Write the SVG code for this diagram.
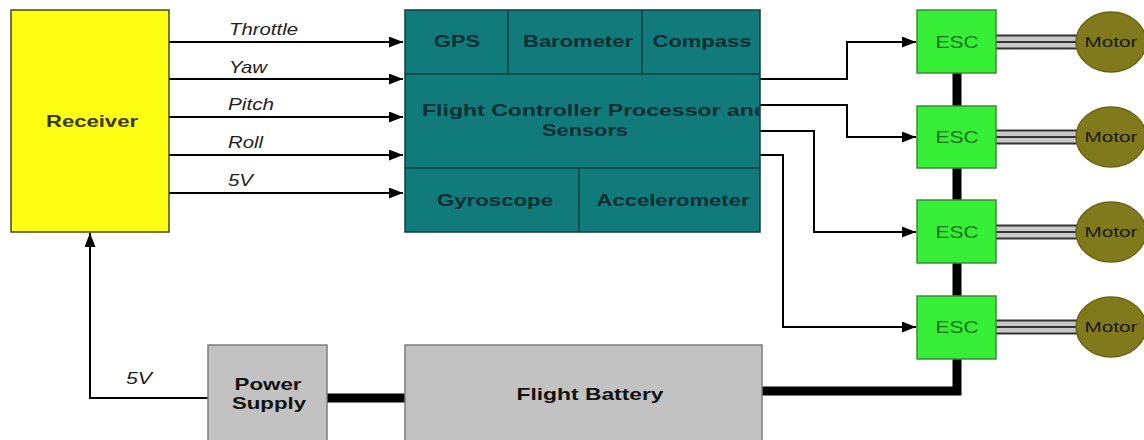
<svg xmlns="http://www.w3.org/2000/svg" width="1144" height="440" viewBox="0 0 1144 440">
<defs>
<marker id="arr" markerWidth="14" markerHeight="11" refX="14" refY="5.5" orient="auto" markerUnits="userSpaceOnUse">
<path d="M0,0 L14,5.5 L0,11 Z" fill="#000"/>
</marker>
<clipPath id="fcclip"><rect x="405" y="74" width="354" height="94"/></clipPath>
<style>
.lbl{font-family:"Liberation Sans",Arial,sans-serif;font-weight:bold;font-size:17px;fill:#0b2e33;text-anchor:middle}
.rx{font-family:"Liberation Sans",Arial,sans-serif;font-weight:bold;font-size:17px;fill:#3a3a00;text-anchor:middle}
.gry{font-family:"Liberation Sans",Arial,sans-serif;font-weight:bold;font-size:17px;fill:#111;text-anchor:middle}
.sig{font-family:"Liberation Sans",Arial,sans-serif;font-style:italic;font-size:17px;fill:#222}
.esc{font-family:"Liberation Sans",Arial,sans-serif;font-size:17px;fill:#167516;text-anchor:middle}
.mot{font-family:"Liberation Sans",Arial,sans-serif;font-size:15px;fill:#1a1a1a;text-anchor:middle}
.wire{stroke:#000;stroke-width:2;fill:none}
.bus{stroke:#000;stroke-width:9;fill:none}
.teal{fill:#117b7c;stroke:#0a3f40;stroke-width:1.5}
.escb{fill:#35ee35;stroke:#3c8c3c;stroke-width:1.5}
.motb{fill:#807a1c;stroke:#6a6512;stroke-width:1.5}
.grayb{fill:#c2c2c2;stroke:#7c7c7c;stroke-width:1.5}
.div{stroke:#0a3f40;stroke-width:1.5}
</style>
</defs>
<rect width="1144" height="440" fill="#fff"/>

<g id="connectors">
<path class="bus" d="M957,73 V391 H762"/>
<path class="bus" d="M327,398 H406" stroke-width="8"/>
<path class="wire" d="M169,42 H403" marker-end="url(#arr)"/>
<path class="wire" d="M169,79 H403" marker-end="url(#arr)"/>
<path class="wire" d="M169,117 H403" marker-end="url(#arr)"/>
<path class="wire" d="M169,155 H403" marker-end="url(#arr)"/>
<path class="wire" d="M169,193 H403" marker-end="url(#arr)"/>
<path class="wire" d="M208,398 H90 V233" marker-end="url(#arr)"/>
<path class="wire" d="M760,79 H847 V42 H916" marker-end="url(#arr)"/>
<path class="wire" d="M760,105 H847 V137 H916" marker-end="url(#arr)"/>
<path class="wire" d="M760,131 H814 V232 H916" marker-end="url(#arr)"/>
<path class="wire" d="M760,155 H783 V327 H916" marker-end="url(#arr)"/>
<g id="motor-wires">
<g transform="translate(0,42)"><rect x="996" y="-7" width="82" height="14" fill="#c8c8c8"/><path d="M996,-6.5 H1078 M996,0 H1078 M996,6.5 H1078" stroke="#333" stroke-width="2.2"/></g>
<g transform="translate(0,137)"><rect x="996" y="-7" width="82" height="14" fill="#c8c8c8"/><path d="M996,-6.5 H1078 M996,0 H1078 M996,6.5 H1078" stroke="#333" stroke-width="2.2"/></g>
<g transform="translate(0,232)"><rect x="996" y="-7" width="82" height="14" fill="#c8c8c8"/><path d="M996,-6.5 H1078 M996,0 H1078 M996,6.5 H1078" stroke="#333" stroke-width="2.2"/></g>
<g transform="translate(0,327)"><rect x="996" y="-7" width="82" height="14" fill="#c8c8c8"/><path d="M996,-6.5 H1078 M996,0 H1078 M996,6.5 H1078" stroke="#333" stroke-width="2.2"/></g>
</g>
<text class="sig" x="229" y="35" textLength="69" lengthAdjust="spacingAndGlyphs">Throttle</text>
<text class="sig" x="229" y="73" textLength="38" lengthAdjust="spacingAndGlyphs">Yaw</text>
<text class="sig" x="228" y="110" textLength="46" lengthAdjust="spacingAndGlyphs">Pitch</text>
<text class="sig" x="228" y="148" textLength="35" lengthAdjust="spacingAndGlyphs">Roll</text>
<text class="sig" x="228" y="186" textLength="25" lengthAdjust="spacingAndGlyphs">5V</text>
<text class="sig" x="126" y="384" textLength="26" lengthAdjust="spacingAndGlyphs">5V</text>
</g>

<g id="receiver">
<rect x="11" y="10" width="158" height="222" fill="#ffff14" stroke="#4a4a10" stroke-width="1.5"/>
<text class="rx" x="92" y="127" textLength="92" lengthAdjust="spacingAndGlyphs">Receiver</text>
</g>

<g id="flight-controller">
<rect class="teal" x="405" y="10" width="355" height="222"/>
<line class="div" x1="405" y1="74" x2="760" y2="74"/>
<line class="div" x1="405" y1="168" x2="760" y2="168"/>
<line class="div" x1="508" y1="10" x2="508" y2="74"/>
<line class="div" x1="642" y1="10" x2="642" y2="74"/>
<line class="div" x1="579" y1="168" x2="579" y2="232"/>
<text class="lbl" x="457" y="47" textLength="46" lengthAdjust="spacingAndGlyphs">GPS</text>
<text class="lbl" x="578" y="47" textLength="110" lengthAdjust="spacingAndGlyphs">Barometer</text>
<text class="lbl" x="702" y="47" textLength="99" lengthAdjust="spacingAndGlyphs">Compass</text>
<text class="lbl" x="422" y="116" style="text-anchor:start" textLength="346" lengthAdjust="spacingAndGlyphs" clip-path="url(#fcclip)">Flight Controller Processor and</text>
<text class="lbl" x="585" y="136" textLength="86" lengthAdjust="spacingAndGlyphs">Sensors</text>
<text class="lbl" x="495" y="206" textLength="116" lengthAdjust="spacingAndGlyphs">Gyroscope</text>
<text class="lbl" x="673" y="206" textLength="153" lengthAdjust="spacingAndGlyphs">Accelerometer</text>
</g>

<g id="esc1"><rect class="escb" x="917" y="10" width="79" height="63"/><text class="esc" x="957" y="48" textLength="43" lengthAdjust="spacingAndGlyphs">ESC</text></g>
<g id="esc2"><rect class="escb" x="917" y="106" width="79" height="62"/><text class="esc" x="957" y="143" textLength="43" lengthAdjust="spacingAndGlyphs">ESC</text></g>
<g id="esc3"><rect class="escb" x="917" y="200" width="79" height="63"/><text class="esc" x="957" y="238" textLength="43" lengthAdjust="spacingAndGlyphs">ESC</text></g>
<g id="esc4"><rect class="escb" x="917" y="296" width="79" height="63"/><text class="esc" x="957" y="333" textLength="43" lengthAdjust="spacingAndGlyphs">ESC</text></g>

<g id="motor1"><ellipse class="motb" cx="1111" cy="42" rx="35" ry="30"/><text class="mot" x="1111" y="47" textLength="53" lengthAdjust="spacingAndGlyphs">Motor</text></g>
<g id="motor2"><ellipse class="motb" cx="1111" cy="137" rx="35" ry="30"/><text class="mot" x="1111" y="142" textLength="53" lengthAdjust="spacingAndGlyphs">Motor</text></g>
<g id="motor3"><ellipse class="motb" cx="1111" cy="232" rx="35" ry="30"/><text class="mot" x="1111" y="237" textLength="53" lengthAdjust="spacingAndGlyphs">Motor</text></g>
<g id="motor4"><ellipse class="motb" cx="1111" cy="327" rx="35" ry="30"/><text class="mot" x="1111" y="332" textLength="53" lengthAdjust="spacingAndGlyphs">Motor</text></g>

<g id="power-supply">
<rect class="grayb" x="208" y="345" width="119" height="100"/>
<text class="gry" x="268" y="390" textLength="67" lengthAdjust="spacingAndGlyphs">Power</text>
<text class="gry" x="269" y="409" textLength="74" lengthAdjust="spacingAndGlyphs">Supply</text>
</g>

<g id="flight-battery">
<rect class="grayb" x="405" y="345" width="357" height="100"/>
<text class="gry" x="590" y="400" textLength="147" lengthAdjust="spacingAndGlyphs">Flight Battery</text>
</g>
</svg>
